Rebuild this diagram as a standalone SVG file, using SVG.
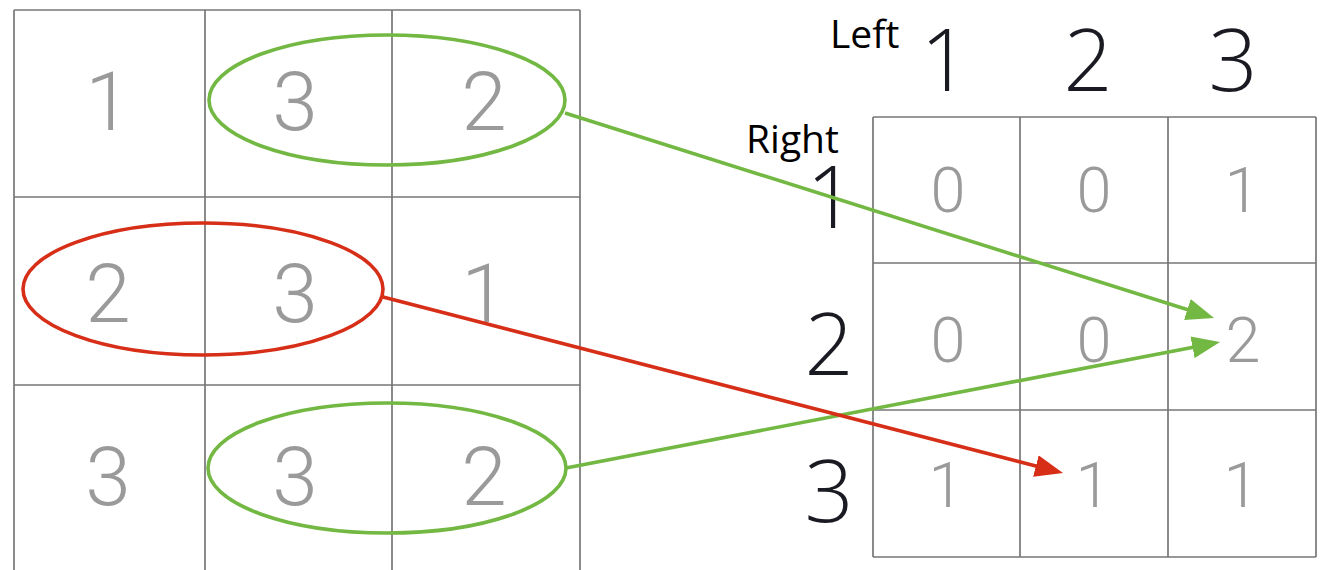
<svg xmlns="http://www.w3.org/2000/svg" width="1325" height="570" viewBox="0 0 1325 570">
<style>
.grid{stroke:#777;stroke-width:1.7;fill:none}
.gl{font-family:Roboto,"Liberation Sans",sans-serif;font-weight:300;fill:#9a9a9a;text-anchor:middle}
.big{font-size:82px}
.mid{font-size:63px}
.hdr{font-family:"Open Sans","Noto Sans",sans-serif;font-weight:300;fill:#1a1a22;text-anchor:middle;font-size:86px}
.lbl{font-family:"Open Sans","Noto Sans",sans-serif;fill:#000;font-size:39px}
.g{stroke:#72b843;stroke-width:3.6;fill:none}
.r{stroke:#d62e17;stroke-width:3.6;fill:none}
</style>
<defs>
<marker id="ag" viewBox="0 0 28 22" markerUnits="userSpaceOnUse" markerWidth="28" markerHeight="22" refX="18" refY="11" orient="auto"><path d="M0,0 L28,11 L0,22 z" fill="#72b843"/></marker>
<marker id="ar" viewBox="0 0 28 22" markerUnits="userSpaceOnUse" markerWidth="28" markerHeight="22" refX="18" refY="11" orient="auto"><path d="M0,0 L28,11 L0,22 z" fill="#d62e17"/></marker>
</defs>
<rect width="1325" height="570" fill="#fff"/>
<g id="left-grid">
<path class="grid" d="M14,10 V570 M205,10 V570 M392,10 V570 M580,10 V570 M14,10 H580 M14,197 H580 M14,385 H580"/>
<text class="gl big" x="108" y="130">1</text>
<text class="gl big" x="295" y="130">3</text>
<text class="gl big" x="484" y="130">2</text>
<text class="gl big" x="108" y="322">2</text>
<text class="gl big" x="295" y="322">3</text>
<text class="gl big" x="484" y="322">1</text>
<text class="gl big" x="108" y="505">3</text>
<text class="gl big" x="295" y="505">3</text>
<text class="gl big" x="484" y="505">2</text>
</g>
<g id="ellipse-top"><ellipse class="g" cx="387" cy="100" rx="178" ry="65"/></g>
<g id="ellipse-red"><ellipse class="r" cx="203" cy="289" rx="180" ry="66"/></g>
<g id="ellipse-bottom"><ellipse class="g" cx="387" cy="468" rx="179" ry="65"/></g>
<g id="right-grid">
<path class="grid" d="M873,117 V557 M1020,117 V557 M1168,117 V557 M1316,117 V557 M873,117 H1316 M873,263 H1316 M873,410 H1316 M873,557 H1316"/>
<text class="gl mid" x="948" y="212">0</text>
<text class="gl mid" x="1094" y="212">0</text>
<text class="gl mid" x="1242" y="212">1</text>
<text class="gl mid" x="948" y="362">0</text>
<text class="gl mid" x="1094" y="362">0</text>
<text class="gl mid" x="1243" y="362">2</text>
<text class="gl mid" x="946" y="507">1</text>
<text class="gl mid" x="1093" y="507">1</text>
<text class="gl mid" x="1241" y="507">1</text>
</g>
<g id="headers">
<text class="lbl" x="830" y="48">Left</text>
<text class="lbl" x="746" y="153">Right</text>
<text class="hdr" x="945" y="91">1</text>
<text class="hdr" x="1088" y="91">2</text>
<text class="hdr" x="1233" y="91">3</text>
<text class="hdr" x="831" y="228">1</text>
<text class="hdr" x="829" y="375">2</text>
<text class="hdr" x="829" y="522">3</text>
</g>
<g id="connectors">
<line class="g" x1="565" y1="113" x2="1204.5" y2="315" marker-end="url(#ag)"/>
<line class="g" x1="566" y1="468" x2="1210.2" y2="343.9" marker-end="url(#ag)"/>
<line class="r" x1="383" y1="297" x2="1053.3" y2="470.5" marker-end="url(#ar)"/>
</g>
</svg>
